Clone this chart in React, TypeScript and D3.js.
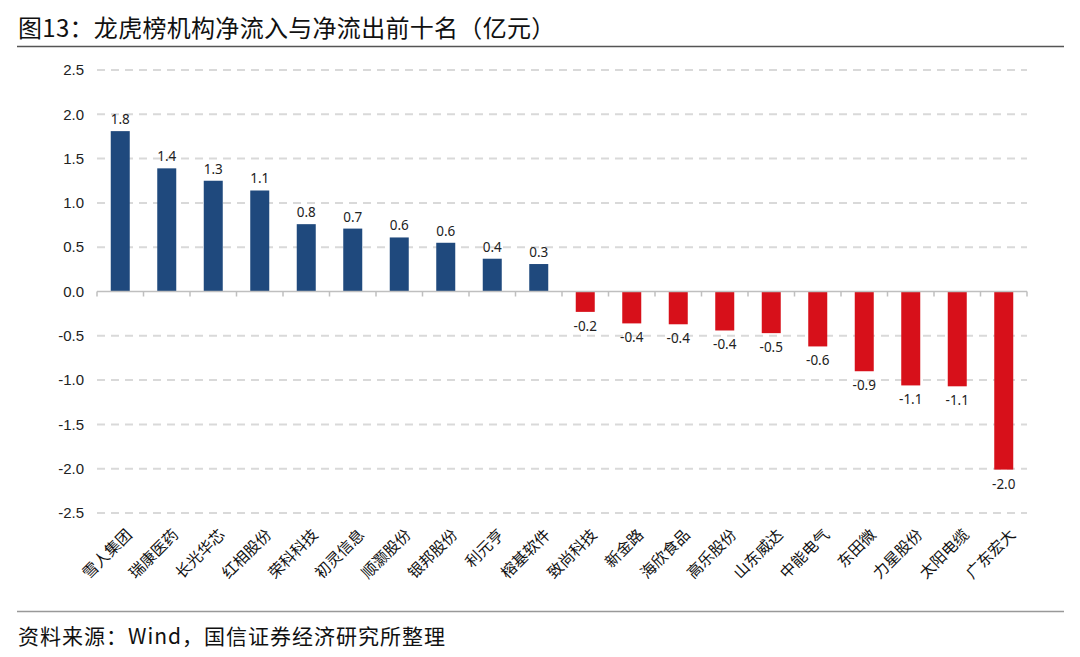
import React from 'react';
import * as d3 from 'd3';

// Net institutional flows on the dragon-tiger list (100m CNY)
const categories = [
  '雪人集团', '瑞康医药', '长光华芯', '红相股份', '荣科科技',
  '初灵信息', '顺灏股份', '银邦股份', '利元亨', '榕基软件',
  '致尚科技', '新金路', '海欣食品', '高乐股份', '山东威达',
  '中能电气', '东田微', '力星股份', '太阳电缆', '广东宏大',
];
const values = [
  1.81, 1.39, 1.25, 1.14, 0.76,
  0.71, 0.61, 0.55, 0.37, 0.31,
  -0.23, -0.36, -0.37, -0.44, -0.47,
  -0.62, -0.9, -1.06, -1.07, -2.01,
];
const yTicks = [2.5, 2.0, 1.5, 1.0, 0.5, 0.0, -0.5, -1.0, -1.5, -2.0, -2.5];

const W = 1080;
const H = 657;
const margin = {top: 70, right: 53, bottom: 144, left: 97};

export default function App() {
  const innerW = W - margin.left - margin.right;
  const innerH = H - margin.top - margin.bottom;

  const step = innerW / categories.length;
  const xb = d3.scaleBand<string>().domain(categories).range([0, innerW]);
  const y = d3.scaleLinear().domain([-2.5, 2.5]).range([innerH, 0]);
  const fmt = (v: number) => d3.format('.1f')(v).replace('−', '-');
  const bw = 19;

  return (
    <svg width={W} height={H} style={{display: 'block', margin: '-8px', background: '#fff'}}>
      <text x={18} y={37} fontFamily="'Noto Sans CJK SC'" fontSize={24} fill="#111" letterSpacing={0.3}>
        图13：龙虎榜机构净流入与净流出前十名（亿元）
      </text>
      <line x1={17} x2={1064} y1={46.5} y2={46.5} stroke="#555" strokeWidth={1.5} />

      <g transform={`translate(${margin.left},${margin.top})`}>
        {yTicks.map((t) => (
          <g key={t}>
            {t !== 0 && (
              <line x1={0} x2={innerW} y1={y(t)} y2={y(t)} stroke="#d9d9d9" strokeWidth={2} strokeDasharray="8,6" />
            )}
            <text x={-13} y={y(t)} dy="0.35em" textAnchor="end" fontFamily="'Liberation Sans', Arial" fontSize={15} fill="#222">
              {fmt(t)}
            </text>
          </g>
        ))}

        {categories.map((c, i) => {
          const v = values[i];
          const cx = (xb(c) as number) + step / 2;
          const y0 = y(0);
          const yv = y(v);
          return (
            <g key={c}>
              <rect
                x={cx - bw / 2}
                y={Math.min(y0, yv)}
                width={bw}
                height={Math.abs(yv - y0)}
                fill={v >= 0 ? '#1F497D' : '#D7101A'}
              />
              <text
                x={cx}
                y={v >= 0 ? yv - 7 : yv + 19}
                textAnchor="middle"
                fontFamily="'Noto Sans', sans-serif"
                fontSize={13.5}
                fill="#222"
              >
                {fmt(v)}
              </text>
              <text
                transform={`translate(${cx + 5},${innerH + 15}) rotate(-45)`}
                textAnchor="end"
                dy="0.7em"
                fontFamily="'Noto Sans CJK SC'"
                fontSize={15.5}
                fill="#111"
              >
                {c}
              </text>
            </g>
          );
        })}

        <line x1={0} x2={innerW} y1={y(0)} y2={y(0)} stroke="#bfbfbf" strokeWidth={1.5} />
        {d3.range(categories.length + 1).map((i) => (
          <line key={i} x1={i * step} x2={i * step} y1={y(0)} y2={y(0) + 5} stroke="#bfbfbf" strokeWidth={1.5} />
        ))}
      </g>

      <line x1={17} x2={1064} y1={611.5} y2={611.5} stroke="#999" strokeWidth={1.5} />
      <text x={18} y={644} fontFamily="'Noto Sans CJK SC'" fontSize={21} fill="#111" letterSpacing={1}>
        资料来源：Wind，国信证券经济研究所整理
      </text>
    </svg>
  );
}
